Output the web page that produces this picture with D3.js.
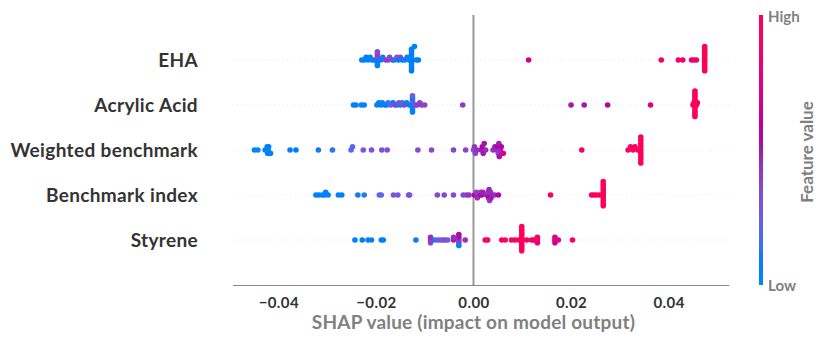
<!DOCTYPE html>
<html>
<head>
<meta charset="utf-8">
<script src="https://cdn.jsdelivr.net/npm/d3@7"></script>
<style>
    body { margin: 0; background: #fff; }
    text { font-family: Lato, 'Open Sans', sans-serif; }
</style>
</head>
<body>
<div id="chart"></div>
<script>
// # Features, top row first.
const features = ['EHA', 'Acrylic Acid', 'Weighted benchmark', 'Benchmark index', 'Styrene']
const xTicks = [-0.04, -0.02, 0.00, 0.02, 0.04]

// # SHAP values and (normalised) feature values for each feature.
const ehaShap = [
    -0.0229, -0.0224, -0.0220, -0.0216, -0.0212, -0.0208, -0.0204,
    -0.0197, -0.0197, -0.0197, -0.0197, -0.0197, -0.0197,
    -0.0190, -0.0186, -0.0180, -0.0175, -0.0172, -0.0166, -0.0162, -0.0157,
    -0.0154, -0.0150, -0.0146, -0.0141, -0.0136, -0.0132,
    -0.0127, -0.0127, -0.0127, -0.0127, -0.0127, -0.0127, -0.0127, -0.0127, -0.0127,
    -0.0121, -0.0117, -0.0113,
    0.0113, 0.0385, 0.0420, 0.0429, 0.0447, 0.0452, 0.0457,
    0.0474, 0.0474, 0.0474, 0.0474, 0.0474, 0.0474, 0.0474, 0.0474, 0.0474, 0.0474]
const ehaValue = [
    0.05, 0.05, 0.08, 0.05, 0.05, 0.10, 0.05,
    0.05, 0.35, 0.08, 0.40, 0.05, 0.35,
    0.05, 0.10, 0.38, 0.40, 0.35, 0.38, 0.10, 0.30,
    0.08, 0.38, 0.05, 0.10, 0.05, 0.05,
    0.05, 0.05, 0.08, 0.05, 0.05, 0.10, 0.05, 0.05, 0.08,
    0.05, 0.05, 0.05,
    0.70, 0.90, 0.88, 0.88, 0.82, 0.85, 0.88,
    0.95, 0.97, 1.00, 0.96, 0.98, 1.00, 0.95, 0.97, 0.99, 1.00]

const acrylicShap = [
    -0.0246, -0.0241, -0.0230, -0.0224,
    -0.0198, -0.0194, -0.0190, -0.0187, -0.0182, -0.0178, -0.0175,
    -0.0170, -0.0165, -0.0161, -0.0157, -0.0153, -0.0150, -0.0146, -0.0142, -0.0137, -0.0132,
    -0.0125, -0.0125, -0.0125, -0.0125, -0.0125, -0.0125, -0.0125, -0.0125,
    -0.0119, -0.0115, -0.0110, -0.0106, -0.0100,
    -0.0022,
    0.0200, 0.0227, 0.0275, 0.0363,
    0.0450, 0.0452, 0.0454, 0.0454, 0.0454, 0.0454, 0.0454, 0.0454, 0.0454, 0.0454,
    0.0454, 0.0454, 0.0457, 0.0459]
const acrylicValue = [
    0.05, 0.05, 0.05, 0.05,
    0.05, 0.05, 0.08, 0.05, 0.10, 0.05, 0.12,
    0.25, 0.05, 0.35, 0.40, 0.30, 0.05, 0.20, 0.38, 0.05, 0.10,
    0.05, 0.10, 0.05, 0.30, 0.05, 0.08, 0.05, 0.25,
    0.35, 0.40, 0.38, 0.40, 0.38,
    0.42,
    0.52, 0.50, 0.58, 0.75,
    0.95, 0.92, 0.97, 1.00, 0.96, 0.98, 1.00, 0.95, 0.97, 0.99,
    1.00, 0.96, 0.95, 0.90]

const weightedShap = [
    -0.0449, -0.0442, -0.0427, -0.0423, -0.0422, -0.0421, -0.0420, -0.0416,
    -0.0376, -0.0364, -0.0318, -0.0289, -0.0251, -0.0248,
    -0.0226, -0.0209, -0.0188, -0.0177, -0.0114, -0.0086, -0.0041, -0.0016,
    0.0000, 0.0002, 0.0004, 0.0007,
    0.0016, 0.0018, 0.0020, 0.0022, 0.0025,
    0.0040, 0.0044, 0.0047, 0.0050, 0.0051, 0.0052, 0.0053, 0.0055, 0.0057, 0.0061,
    0.0222,
    0.0317, 0.0322, 0.0327, 0.0331, 0.0337,
    0.0343, 0.0343, 0.0343, 0.0343, 0.0343, 0.0343, 0.0343, 0.0343, 0.0343]
const weightedValue = [
    0.03, 0.03, 0.05, 0.03, 0.05, 0.02, 0.05, 0.04,
    0.06, 0.08, 0.10, 0.12, 0.18, 0.22,
    0.30, 0.32, 0.33, 0.33, 0.35, 0.36, 0.37, 0.38,
    0.30, 0.42, 0.38, 0.45,
    0.48, 0.55, 0.50, 0.52, 0.45,
    0.42, 0.50, 0.45, 0.55, 0.40, 0.48, 0.52, 0.45, 0.55, 0.72,
    0.88,
    0.92, 0.90, 0.92, 0.95, 0.95,
    0.95, 0.97, 1.00, 0.96, 0.98, 1.00, 0.95, 0.97, 0.99]

const indexShap = [
    -0.0323, -0.0317, -0.0310, -0.0305, -0.0303, -0.0298, -0.0277, -0.0270,
    -0.0237, -0.0224, -0.0193, -0.0189,
    -0.0164, -0.0155, -0.0133, -0.0131,
    -0.0074, -0.0060, -0.0041, -0.0021, -0.0014, -0.0009,
    0.0002, 0.0004, 0.0006, 0.0008,
    0.0013, 0.0015, 0.0017, 0.0019,
    0.0027, 0.0029, 0.0030, 0.0031, 0.0032, 0.0033, 0.0034, 0.0035, 0.0036,
    0.0043, 0.0051,
    0.0158,
    0.0242, 0.0247, 0.0252, 0.0258,
    0.0266, 0.0266, 0.0266, 0.0266, 0.0266, 0.0266, 0.0266, 0.0266, 0.0266, 0.0266]
const indexValue = [
    0.05, 0.05, 0.05, 0.06, 0.04, 0.05, 0.06, 0.05,
    0.10, 0.12, 0.25, 0.22,
    0.30, 0.30, 0.32, 0.30,
    0.35, 0.36, 0.36, 0.38, 0.40, 0.42,
    0.58, 0.62, 0.40, 0.45,
    0.50, 0.42, 0.55, 0.48,
    0.45, 0.50, 0.42, 0.55, 0.48, 0.40, 0.52, 0.45, 0.50,
    0.45, 0.55,
    0.95,
    0.92, 0.95, 0.90, 0.95,
    0.95, 0.97, 1.00, 0.96, 0.98, 1.00, 0.95, 0.97, 0.99, 1.00]

const styreneShap = [
    -0.0243, -0.0228, -0.0216, -0.0209, -0.0189, -0.0185,
    -0.0118,
    -0.0088, -0.0088, -0.0088,
    -0.0079, -0.0073, -0.0068, -0.0063, -0.0058, -0.0053,
    -0.0041, -0.0041,
    -0.0030, -0.0030, -0.0030, -0.0030, -0.0030,
    -0.0017,
    0.0024, 0.0029, 0.0058, 0.0065, 0.0078, 0.0085, 0.0092,
    0.0099, 0.0099, 0.0099, 0.0099, 0.0099, 0.0099, 0.0099, 0.0099, 0.0099, 0.0099,
    0.0109, 0.0119, 0.0124, 0.0126, 0.0131, 0.0131, 0.0131,
    0.0167, 0.0167, 0.0167, 0.0174,
    0.0203]
const styreneValue = [
    0.05, 0.05, 0.06, 0.05, 0.05, 0.06,
    0.05,
    0.40, 0.45, 0.38,
    0.10, 0.30, 0.32, 0.30, 0.35, 0.28,
    0.50, 0.45,
    0.45, 0.50, 0.42, 0.55, 0.05,
    0.45,
    0.85, 0.95, 0.90, 0.92, 0.92, 0.90, 0.95,
    0.90, 0.95, 1.00, 0.96, 0.98, 1.00, 0.92, 0.97, 0.99, 0.94,
    0.95, 0.90, 0.85, 0.92, 0.88, 0.95, 0.80,
    0.70, 0.75, 0.65, 0.75,
    0.92]

const rows = [
    {name: features[0], shap: ehaShap, value: ehaValue},
    {name: features[1], shap: acrylicShap, value: acrylicValue},
    {name: features[2], shap: weightedShap, value: weightedValue},
    {name: features[3], shap: indexShap, value: indexValue},
    {name: features[4], shap: styreneShap, value: styreneValue},
]

const CONFIG = {
    divID: '#chart',
    width: 827, height: 342,
    left: 232.5, right: 728.6, top: 15, bottom: 285,
    xDomain: [-0.0494, 0.0523],
    rowHeight: 0.4,
    dotRadius: 2.8,
    barX: 759, barWidth: 4,
}

// # SHAP red_blue colormap (lch walk from blue to red).
function shapColor(t) {
    let l = t < 0.5 ? 54 + (40 - 54) * (t / 0.5) : 40 + (54 - 40) * ((t - 0.5) / 0.5)
    let c = 70 + 20 * t
    let h = 266.93 + (380.32 - 266.93) * t
    return d3.hcl(h % 360, c, l).formatHex()
}

// # Beeswarm offsets, same binning as shap.summary_plot.
function swarm(shaps, rowHeight) {
    let n = shaps.length
    let lo = d3.min(shaps), hi = d3.max(shaps)
    let quant = shaps.map(s => Math.round(100 * (s - lo) / (hi - lo + 1e-8)))
    let inds = d3.range(n).sort((a, b) => quant[a] - quant[b] || a - b)
    let ys = new Array(n).fill(0)
    let layer = 0, lastBin = -1
    for (let i of inds) {
        if (quant[i] != lastBin) layer = 0
        ys[i] = Math.ceil(layer / 2) * ((layer % 2) * 2 - 1)
        layer += 1
        lastBin = quant[i]
    }
    let k = 0.9 * rowHeight / d3.max(ys, y => y + 1)
    return ys.map(y => y * k)
}

function draw(config) {
    let {divID, width, height, left, right, top, bottom} = config

    let svg = d3.select(divID)
        .append('svg')
        .attr('width', width)
        .attr('height', height)
    svg.append('rect')
        .attr('width', width)
        .attr('height', height)
        .attr('fill', '#fff')

    let x = d3.scaleLinear().domain(config.xDomain).range([left, right])
    let y = d3.scaleLinear().domain([-1, features.length]).range([bottom, top])
    let pos = (i) => features.length - 1 - i

    // # Dotted row guides.
    svg.append('g')
        .selectAll('line')
        .data(rows)
        .enter().append('line')
        .attr('x1', left).attr('x2', right)
        .attr('y1', (d, i) => y(pos(i)))
        .attr('y2', (d, i) => y(pos(i)))
        .attr('stroke', '#cccccc')
        .attr('stroke-width', 0.7)
        .attr('stroke-dasharray', '0.7,3.5')

    // # Zero line.
    svg.append('line')
        .attr('x1', x(0)).attr('x2', x(0))
        .attr('y1', top).attr('y2', bottom)
        .attr('stroke', '#999999')
        .attr('stroke-width', 2)

    // # Dots.
    rows.forEach((row, i) => {
        let offs = swarm(row.shap, config.rowHeight)
        let pts = row.shap.map((s, j) => ({s, v: row.value[j], dy: offs[j]}))
        svg.append('g')
            .selectAll('circle')
            .data(pts)
            .enter().append('circle')
            .attr('cx', d => x(d.s))
            .attr('cy', d => y(pos(i) + d.dy))
            .attr('r', config.dotRadius)
            .attr('fill', d => shapColor(d.v))
    })

    // # Feature labels.
    svg.append('g')
        .selectAll('text')
        .data(rows)
        .enter().append('text')
        .attr('x', 198)
        .attr('y', (d, i) => y(pos(i)))
        .attr('dy', '0.35em')
        .attr('text-anchor', 'end')
        .attr('font-size', 19)
        .attr('letter-spacing', 0.35)
        .attr('font-weight', 700)
        .attr('fill', '#333333')
        .text(d => d.name)

    // # X axis.
    let axis = svg.append('g')
        .attr('transform', `translate(0,${bottom})`)
        .call(d3.axisBottom(x).tickValues(xTicks).tickSize(0).tickPadding(12)
            .tickFormat(d3.format('.2f')))
    axis.select('.domain').attr('stroke', '#888888').attr('stroke-width', 1.2)
    axis.selectAll('text')
        .attr('font-size', 15)
        .attr('font-weight', 700)
        .attr('letter-spacing', 0.4)
        .attr('fill', '#333333')
        .style('font-family', 'Lato, sans-serif')

    svg.append('text')
        .attr('x', x(0))
        .attr('y', 322)
        .attr('dy', '0.35em')
        .attr('text-anchor', 'middle')
        .attr('font-size', 19)
        .attr('letter-spacing', 0.2)
        .attr('font-weight', 700)
        .attr('fill', '#808080')
        .text('SHAP value (impact on model output)')

    // # Colour bar.
    let grad = svg.append('defs').append('linearGradient')
        .attr('id', 'bar')
        .attr('x1', 0).attr('x2', 0).attr('y1', 1).attr('y2', 0)
    grad.selectAll('stop')
        .data(d3.range(0, 1.0001, 0.05))
        .enter().append('stop')
        .attr('offset', d => d)
        .attr('stop-color', d => shapColor(d))
    svg.append('rect')
        .attr('x', config.barX)
        .attr('y', top)
        .attr('width', config.barWidth)
        .attr('height', bottom - top)
        .attr('fill', 'url(#bar)')

    let labelStyle = (sel) => sel
        .attr('font-size', 15)
        .attr('font-weight', 700)
        .attr('fill', '#808080')
    svg.append('text')
        .attr('x', 768).attr('y', 17).attr('dy', '0.35em')
        .call(labelStyle)
        .text('High')
    svg.append('text')
        .attr('x', 768).attr('y', 286).attr('dy', '0.35em')
        .call(labelStyle)
        .text('Low')
    svg.append('text')
        .attr('transform', 'translate(807,152) rotate(-90)')
        .attr('dy', '0.35em')
        .attr('text-anchor', 'middle')
        .call(labelStyle)
        .attr('font-size', 17)
        .text('Feature value')
}

draw(CONFIG)
</script>
</body>
</html>
